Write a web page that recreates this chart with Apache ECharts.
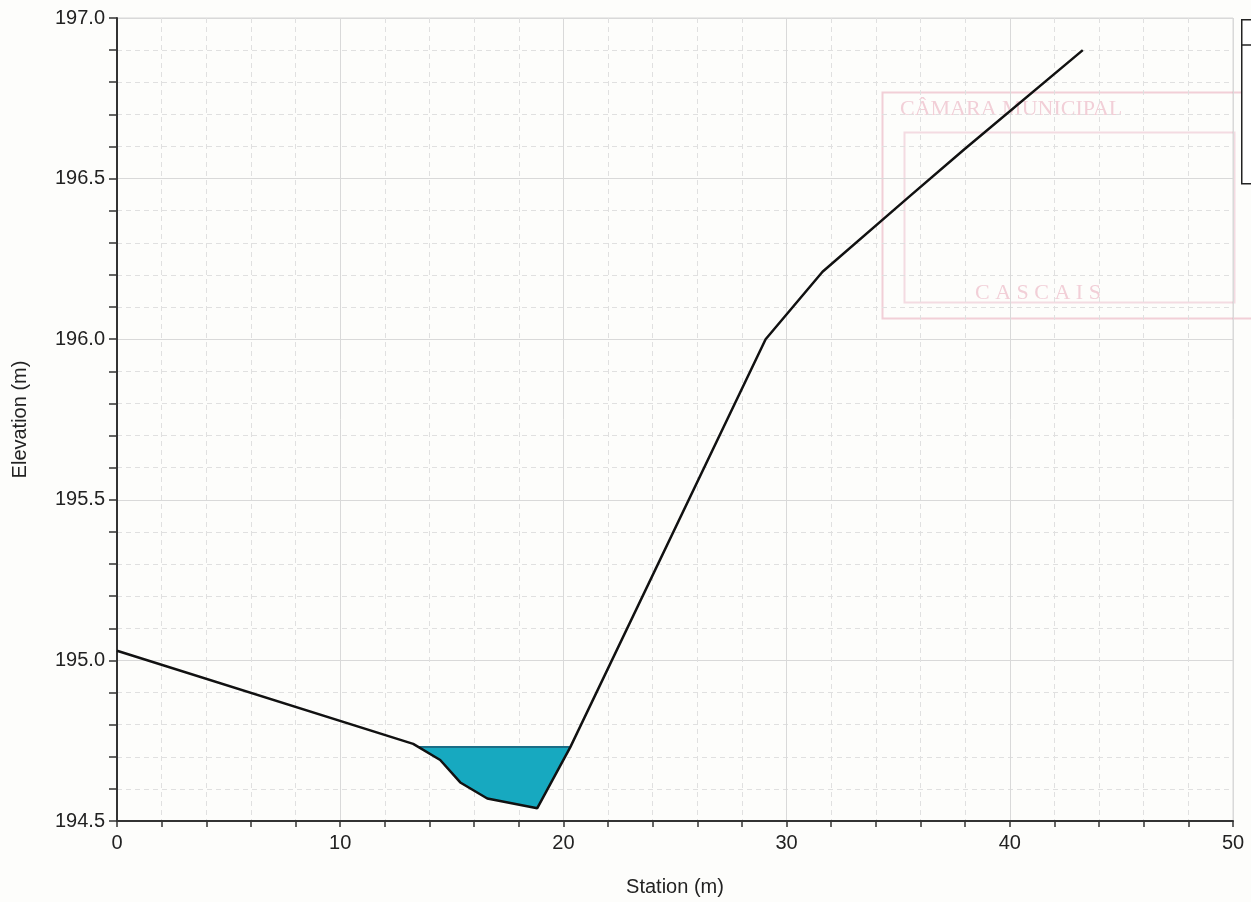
<!DOCTYPE html>
<html>
<head>
<meta charset="utf-8">
<script src="https://cdn.jsdelivr.net/npm/echarts@6/dist/echarts.min.js"></script>
<style>
html,body{margin:0;padding:0;background:#fdfdfb;}
#chart{width:1251px;height:902px;}
</style>
</head>
<body>
<div id="chart"></div>
<script>
// Terrain profile: station (m), elevation (m)
const stations   = [0, 13.27, 14.48, 15.38, 16.59, 18.83, 20.31, 29.06, 31.61, 35.43, 37.94, 43.27];
const elevations = [195.03, 194.74, 194.69, 194.62, 194.57, 194.54, 194.73, 196.00, 196.21, 196.44, 196.59, 196.90];
const waterLevel = 194.73;
const xTicks = [0, 10, 20, 30, 40, 50];
const yTicks = [194.5, 195.0, 195.5, 196.0, 196.5, 197.0];

const terrain = stations.map((s, i) => [s, elevations[i]]);

// Water polygon: water surface + terrain below it
function buildWater() {
  const poly = [];
  for (let i = 0; i < terrain.length - 1; i++) {
    const a = terrain[i], b = terrain[i + 1];
    const aBelow = a[1] <= waterLevel, bBelow = b[1] <= waterLevel;
    if (aBelow) poly.push(a);
    if (aBelow !== bBelow) {
      const t = (waterLevel - a[1]) / (b[1] - a[1]);
      poly.push([a[0] + t * (b[0] - a[0]), waterLevel]);
    }
  }
  const last = terrain[terrain.length - 1];
  if (last[1] <= waterLevel) poly.push(last);
  return poly;
}
const waterPoly = buildWater();
const surfaceLine = [waterPoly[0], waterPoly[waterPoly.length - 1]];

const chart = echarts.init(document.getElementById('chart'), null, {renderer: 'canvas'});
const font = 'Liberation Sans, Arial, sans-serif';

chart.setOption({
  backgroundColor: '#fdfdfb',
  animation: false,
  grid: {left: 117, right: 18, top: 18, bottom: 80, containLabel: false,
         show: true, borderColor: '#d6d6d6', borderWidth: 1},
  xAxis: {
    type: 'value', min: xTicks[0], max: xTicks[xTicks.length - 1], interval: 10,
    name: 'Station (m)', nameLocation: 'middle', nameGap: 56,
    nameTextStyle: {fontFamily: font, fontSize: 20, color: '#222'},
    axisLine: {show: true, onZero: false, lineStyle: {color: '#333', width: 2}},
    axisTick: {show: true, inside: false, length: 6, lineStyle: {color: '#333', width: 1.5}},
    minorTick: {show: true, splitNumber: 5, length: 6, lineStyle: {color: '#333', width: 1.5}},
    axisLabel: {fontFamily: font, fontSize: 20, color: '#222', margin: 12},
    splitLine: {show: true, lineStyle: {color: '#d9d9d9', width: 1}},
    minorSplitLine: {show: true, lineStyle: {color: '#e0e0e0', width: 1, type: [5, 4]}}
  },
  yAxis: {
    type: 'value', min: yTicks[0], max: yTicks[yTicks.length - 1], interval: 0.5,
    name: 'Elevation (m)', nameLocation: 'middle', nameGap: 87, nameRotate: 90,
    nameTextStyle: {fontFamily: font, fontSize: 20, color: '#222'},
    axisLine: {show: true, onZero: false, lineStyle: {color: '#333', width: 2}},
    axisTick: {show: true, inside: false, length: 8, lineStyle: {color: '#333', width: 1.5}},
    minorTick: {show: true, splitNumber: 5, length: 8, lineStyle: {color: '#333', width: 1.5}},
    axisLabel: {fontFamily: font, fontSize: 20, color: '#222', margin: 12,
                formatter: v => v.toFixed(1)},
    splitLine: {show: true, lineStyle: {color: '#d9d9d9', width: 1}},
    minorSplitLine: {show: true, lineStyle: {color: '#e0e0e0', width: 1, type: [5, 4]}}
  },
  graphic: [
    // faint scanned stamp
    {type: 'rect', left: 880, top: 90, shape: {width: 380, height: 226},
     style: {fill: 'none', stroke: 'rgba(220,120,150,0.35)', lineWidth: 2}, silent: true, z: 0},
    {type: 'rect', left: 902, top: 130, shape: {width: 330, height: 170},
     style: {fill: 'none', stroke: 'rgba(220,120,150,0.25)', lineWidth: 2}, silent: true, z: 0},
    {type: 'text', left: 900, top: 98, style: {text: 'CÂMARA MUNICIPAL', fill: 'rgba(220,120,150,0.35)',
     font: '22px Liberation Serif, serif'}, silent: true, z: 0},
    {type: 'text', left: 975, top: 282, style: {text: 'C A S C A I S', fill: 'rgba(220,120,150,0.35)',
     font: '22px Liberation Serif, serif'}, silent: true, z: 0},
    // cut-off legend box
    {type: 'rect', left: 1241, top: 19, shape: {width: 30, height: 164},
     style: {fill: '#fff', stroke: '#222', lineWidth: 1.5}, silent: true, z: 10},
    {type: 'line', shape: {x1: 1241, y1: 45, x2: 1251, y2: 45},
     style: {stroke: '#222', lineWidth: 1.5}, silent: true, z: 10}
  ],
  series: [
    {
      type: 'custom', name: 'Water',
      coordinateSystem: 'cartesian2d',
      data: [0],
      renderItem: function (params, api) {
        const pts = waterPoly.map(p => api.coord(p));
        return {type: 'polygon', shape: {points: pts},
                style: {fill: '#17a9c0', stroke: 'none'}};
      },
      z: 2
    },
    {
      type: 'line', name: 'WS', data: surfaceLine, showSymbol: false,
      lineStyle: {color: '#1b6d86', width: 2}, z: 3
    },
    {
      type: 'line', name: 'Ground', data: terrain, showSymbol: false,
      lineStyle: {color: '#111', width: 2.5}, z: 4
    }
  ]
});
</script>
</body>
</html>
